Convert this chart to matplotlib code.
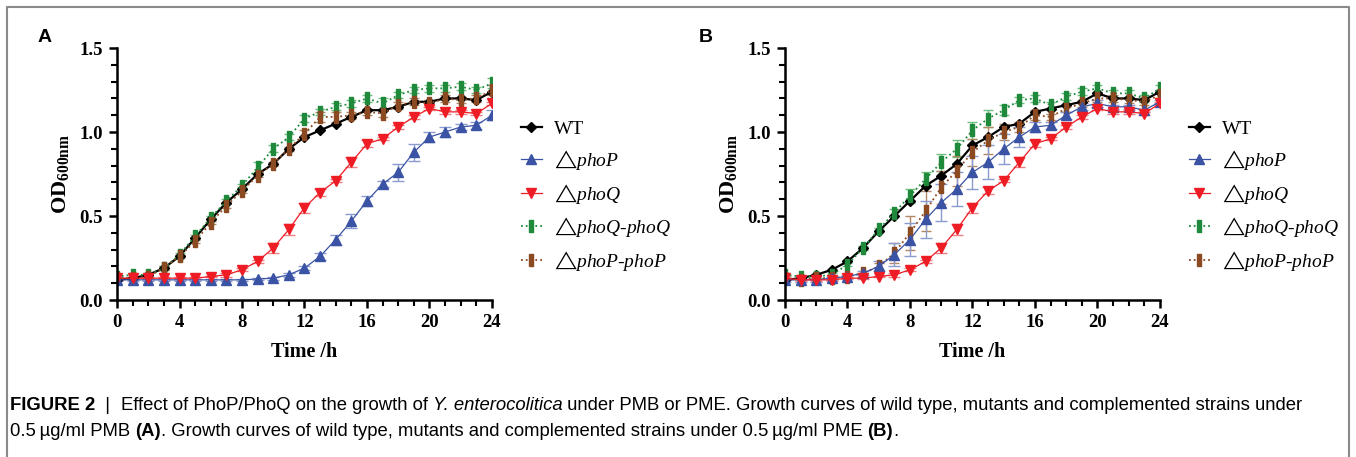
import matplotlib
matplotlib.use("Agg")
import matplotlib.pyplot as plt
import numpy as np
from matplotlib.ticker import MultipleLocator
from matplotlib.lines import Line2D

plt.rcParams['font.family'] = ['Liberation Serif', 'DejaVu Serif']
plt.rcParams['mathtext.fontset'] = 'custom'
plt.rcParams['mathtext.rm'] = 'Liberation Serif'
plt.rcParams['mathtext.it'] = 'Liberation Serif:italic'
plt.rcParams['mathtext.bf'] = 'Liberation Serif:bold'
plt.rcParams['mathtext.fallback'] = 'stix'

hours = np.arange(0, 25)

# Panel A (PMB)
a_wt = [0.12, 0.13, 0.15, 0.19, 0.26, 0.37, 0.48, 0.58, 0.66, 0.75, 0.81, 0.90, 0.97,
        1.01, 1.05, 1.09, 1.13, 1.13, 1.15, 1.18, 1.18, 1.20, 1.20, 1.19, 1.24]
a_phoP = [0.12, 0.12, 0.12, 0.12, 0.12, 0.12, 0.12, 0.12, 0.12, 0.125, 0.13, 0.15, 0.19,
          0.26, 0.36, 0.47, 0.59, 0.69, 0.76, 0.88, 0.97, 1.00, 1.03, 1.04, 1.10]
a_phoP_err = [0.005, 0.005, 0.005, 0.005, 0.005, 0.005, 0.005, 0.005, 0.005, 0.005, 0.01, 0.01, 0.01,
              0.02, 0.03, 0.04, 0.03, 0.02, 0.05, 0.05, 0.03, 0.03, 0.02, 0.02, 0.03]
a_phoQ = [0.13, 0.13, 0.13, 0.13, 0.13, 0.13, 0.14, 0.15, 0.18, 0.23, 0.31, 0.42, 0.55,
          0.64, 0.71, 0.82, 0.93, 0.96, 1.03, 1.09, 1.14, 1.12, 1.12, 1.11, 1.17]
a_phoQ_err = [0.01, 0.005, 0.005, 0.005, 0.005, 0.005, 0.005, 0.01, 0.01, 0.01, 0.03, 0.03, 0.03,
              0.02, 0.01, 0.03, 0.02, 0.01, 0.01, 0.01, 0.01, 0.01, 0.01, 0.01, 0.01]
a_QQ = [0.14, 0.15, 0.15, 0.19, 0.27, 0.38, 0.49, 0.59, 0.68, 0.79, 0.90, 0.97, 1.08,
        1.12, 1.15, 1.17, 1.20, 1.17, 1.22, 1.25, 1.26, 1.26, 1.27, 1.25, 1.29]
a_QQ_err = [0.01, 0.01, 0.01, 0.01, 0.01, 0.01, 0.01, 0.01, 0.01, 0.03, 0.02, 0.02, 0.02,
            0.02, 0.02, 0.02, 0.02, 0.03, 0.02, 0.02, 0.02, 0.02, 0.02, 0.02, 0.03]
a_PP = [0.13, 0.13, 0.14, 0.19, 0.26, 0.35, 0.46, 0.56, 0.65, 0.74, 0.81, 0.90, 0.99,
        1.09, 1.09, 1.10, 1.12, 1.11, 1.16, 1.18, 1.17, 1.20, 1.19, 1.20, 1.25]
a_PP_err = [0.01, 0.01, 0.01, 0.01, 0.01, 0.01, 0.01, 0.01, 0.01, 0.01, 0.01, 0.01, 0.02,
            0.03, 0.03, 0.02, 0.02, 0.02, 0.02, 0.02, 0.02, 0.02, 0.02, 0.02, 0.03]

# Panel B (PME)
b_wt = [0.12, 0.13, 0.15, 0.18, 0.23, 0.31, 0.41, 0.50, 0.59, 0.68, 0.74, 0.81, 0.92,
        0.97, 1.03, 1.05, 1.12, 1.14, 1.16, 1.18, 1.23, 1.20, 1.20, 1.19, 1.24]
b_phoP = [0.12, 0.12, 0.12, 0.13, 0.14, 0.16, 0.20, 0.27, 0.36, 0.48, 0.58, 0.66, 0.76,
          0.82, 0.90, 0.97, 1.03, 1.04, 1.10, 1.15, 1.17, 1.15, 1.15, 1.13, 1.18]
b_phoP_err = [0.01, 0.01, 0.01, 0.01, 0.01, 0.01, 0.03, 0.07, 0.10, 0.11, 0.11, 0.10, 0.10,
              0.10, 0.09, 0.06, 0.03, 0.02, 0.02, 0.02, 0.02, 0.01, 0.01, 0.01, 0.01]
b_phoQ = [0.13, 0.12, 0.12, 0.12, 0.13, 0.13, 0.14, 0.15, 0.18, 0.23, 0.31, 0.42, 0.55,
          0.65, 0.71, 0.82, 0.93, 0.96, 1.03, 1.09, 1.14, 1.12, 1.12, 1.11, 1.17]
b_phoQ_err = [0.01, 0.005, 0.005, 0.005, 0.005, 0.005, 0.005, 0.01, 0.01, 0.01, 0.03, 0.03, 0.03,
              0.02, 0.01, 0.03, 0.02, 0.01, 0.01, 0.01, 0.01, 0.01, 0.01, 0.01, 0.01]
b_QQ = [0.15, 0.14, 0.14, 0.15, 0.21, 0.31, 0.42, 0.52, 0.62, 0.72, 0.82, 0.90, 1.01,
        1.08, 1.13, 1.19, 1.20, 1.16, 1.21, 1.24, 1.26, 1.23, 1.23, 1.20, 1.26]
b_QQ_err = [0.01, 0.01, 0.01, 0.01, 0.01, 0.01, 0.01, 0.02, 0.04, 0.04, 0.05, 0.05, 0.05,
            0.05, 0.03, 0.02, 0.02, 0.02, 0.02, 0.02, 0.02, 0.02, 0.02, 0.02, 0.02]
b_PP = [0.13, 0.12, 0.13, 0.13, 0.14, 0.16, 0.20, 0.28, 0.40, 0.53, 0.67, 0.77, 0.88,
        0.95, 1.00, 1.03, 1.10, 1.09, 1.14, 1.17, 1.20, 1.20, 1.19, 1.18, 1.22]
b_PP_err = [0.01, 0.01, 0.01, 0.01, 0.01, 0.01, 0.02, 0.06, 0.10, 0.12, 0.10, 0.09, 0.08,
            0.08, 0.05, 0.03, 0.03, 0.02, 0.02, 0.02, 0.02, 0.02, 0.02, 0.02, 0.02]

labels = ['WT', '$\u25b3\\mathit{phoP}$', '$\u25b3\\mathit{phoQ}$',
          '$\u25b3\\mathit{phoQ}$-$\\mathit{phoQ}$', '$\u25b3\\mathit{phoP}$-$\\mathit{phoP}$']

c_wt, c_P, c_Q, c_QQ, c_PP = 'black', '#3a53a4', '#ee1c25', '#1f8a3b', '#8c4a22'
e_P, e_Q, e_QQ, e_PP = '#8a9bd0', '#f07f84', '#6fbf80', '#b38866'
bar_marker = [(-0.3, -1), (0.3, -1), (0.3, 1), (-0.3, 1), (-0.3, -1)]


def panel(ax, wt, p, pe, q, qe, qq, qqe, pp, ppe):
    ax.errorbar(hours, qq, yerr=qqe, color=c_QQ, ecolor=e_QQ, ls=':', lw=1.3, marker=bar_marker,
                ms=9, capsize=3.5, elinewidth=1, capthick=1)
    ax.errorbar(hours, pp, yerr=ppe, color=c_PP, ecolor=e_PP, ls=':', lw=1.3, marker=bar_marker,
                ms=8, capsize=3.5, elinewidth=1, capthick=1)
    ax.errorbar(hours, p, yerr=pe, color=c_P, ecolor=e_P, ls='-', lw=0.9, marker='^',
                ms=7, capsize=4, elinewidth=1, capthick=1)
    ax.errorbar(hours, q, yerr=qe, color=c_Q, ecolor=e_Q, ls='-', lw=0.9, marker='v',
                ms=7, capsize=4, elinewidth=1, capthick=1)
    ax.plot(hours, wt, color=c_wt, ls='-', lw=1.6, marker='D', ms=5)

    ax.set_xlim(0, 24)
    ax.set_ylim(0, 1.5)
    ax.xaxis.set_major_locator(MultipleLocator(4))
    ax.xaxis.set_minor_locator(MultipleLocator(1))
    ax.yaxis.set_major_locator(MultipleLocator(0.5))
    ax.yaxis.set_minor_locator(MultipleLocator(0.1))
    ax.yaxis.set_major_formatter(plt.FuncFormatter(lambda v, _: f'{v:.1f}'))
    for s in ['top', 'right']:
        ax.spines[s].set_visible(False)
    for s in ['left', 'bottom']:
        ax.spines[s].set_linewidth(1.8)
    ax.tick_params(which='major', length=6, width=1.8, labelsize=13.5, pad=4)
    ax.tick_params(which='minor', length=4, width=1.5)
    for t in ax.get_xticklabels() + ax.get_yticklabels():
        t.set_fontweight('bold')
    ax.set_xlabel('Time /h', fontsize=14.5, fontweight='bold', labelpad=8)
    ax.set_ylabel(r'$\mathbf{OD_{600nm}}$', fontsize=16, labelpad=6)

    handles = [
        Line2D([], [], color=c_wt, lw=1.6, marker='D', ms=5),
        Line2D([], [], color=c_P, lw=0.9, marker='^', ms=7),
        Line2D([], [], color=c_Q, lw=0.9, marker='v', ms=7),
        Line2D([], [], color=c_QQ, lw=1.3, ls=':', marker=bar_marker, ms=9),
        Line2D([], [], color=c_PP, lw=1.3, ls=':', marker=bar_marker, ms=8),
    ]
    ax.legend(handles, labels, loc='center left', bbox_to_anchor=(1.03, 0.41), frameon=False,
              fontsize=14, handlelength=1.1, handletextpad=0.6, labelspacing=0.5)


fig = plt.figure(figsize=(13.56, 4.57), dpi=100)
ax_a = fig.add_axes([0.0863, 0.3435, 0.2765, 0.5514])
ax_b = fig.add_axes([0.5789, 0.3435, 0.2765, 0.5514])
panel(ax_a, a_wt, a_phoP, a_phoP_err, a_phoQ, a_phoQ_err, a_QQ, a_QQ_err, a_PP, a_PP_err)
panel(ax_b, b_wt, b_phoP, b_phoP_err, b_phoQ, b_phoQ_err, b_QQ, b_QQ_err, b_PP, b_PP_err)

fig.text(38 / 1356, 1 - 37 / 457, 'A', family='Liberation Sans', fontweight='bold', fontsize=14,
         va='center', ha='left')
fig.text(699 / 1356, 1 - 37 / 457, 'B', family='Liberation Sans', fontweight='bold', fontsize=14,
         va='center', ha='left')

# frame around the figure
fig.add_artist(Line2D([7 / 1356, 7 / 1356, 1349 / 1356, 1349 / 1356],
                      [0, 1 - 7 / 457, 1 - 7 / 457, 0], color='#8a8a8a', lw=1.5,
                      transform=fig.transFigure))

# caption, drawn piece by piece
cap_lines = [
    [('FIGURE 2', 'bold', 'normal'), ('  |  ', 'normal', 'normal'),
     ('Effect of PhoP/PhoQ on the growth of ', 'normal', 'normal'),
     ('Y. enterocolitica', 'normal', 'italic'),
     (' under PMB or PME. Growth curves of wild type, mutants and complemented strains under',
      'normal', 'normal')],
    [('0.5\u2009\u00b5g/ml PMB ', 'normal', 'normal'), ('(A)', 'bold', 'normal'),
     ('. Growth curves of wild type, mutants and complemented strains under 0.5\u2009\u00b5g/ml PME ',
      'normal', 'normal'),
     ('(B)', 'bold', 'normal'), ('.', 'normal', 'normal')],
]
cap_y = [405, 432]
renderer = fig.canvas.get_renderer()
for line, yy in zip(cap_lines, cap_y):
    x = 10 / 1356
    for txt, wt, st in line:
        t = fig.text(x, 1 - yy / 457, txt, family=['Liberation Sans', 'DejaVu Sans'],
                     fontweight=wt, style=st, fontsize=13.3, va='center', ha='left')
        bb = t.get_window_extent(renderer)
        x += bb.width / fig.bbox.width

fig.savefig('out.png', dpi=100)
